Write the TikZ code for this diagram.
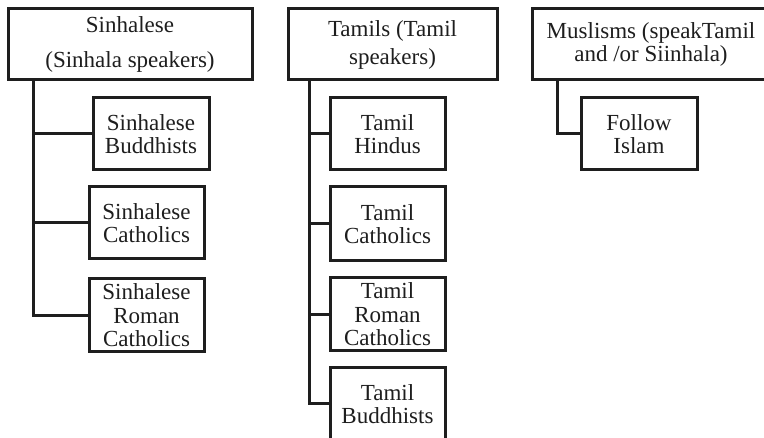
\documentclass[tikz,border=0pt]{standalone}
\usepackage{fontspec}
\setmainfont{Liberation Serif}
\definecolor{ink}{HTML}{1E1E1E}
\begin{document}
\begin{tikzpicture}[x=1pt,y=-1pt,
  box/.style={draw=ink,line width=3.0pt,inner sep=0pt,align=center,text=ink,
    font=\fontsize{23}{23.5}\selectfont,minimum height=72pt},
  link/.style={draw=ink,line width=3.0pt}]
\clip (0,0) rectangle (764,438);
\fill[white] (0,0) rectangle (764,438);
% Sinhalese column
\node[box,minimum width=244pt,minimum height=71pt] (S0) at (130,44.5) {Sinhalese\\[11.5pt](Sinhala speakers)};
\node[box,minimum width=116pt] (S1) at (151,134) {Sinhalese\\Buddhists};
\node[box,minimum width=115pt] (S2) at (146.5,223) {Sinhalese\\Catholics};
\node[box,minimum width=115pt,minimum height=73pt] (S3) at (146.5,315.5) {Sinhalese\\Roman\\Catholics};
\coordinate (sx) at (33,0);
\draw[link] (S0.south -| sx) |- (S3.west);
\draw[link] (sx |- S1.west) -- (S1.west);
\draw[link] (sx |- S2.west) -- (S2.west);
% Tamil column
\node[box,minimum width=209pt,minimum height=71pt] (T0) at (392.5,44.5) {Tamils (Tamil\\[4.5pt]speakers)};
\node[box,minimum width=115pt] (T1) at (387.5,134) {Tamil\\Hindus};
\node[box,minimum width=115pt,minimum height=74pt] (T2) at (387.5,224) {Tamil\\Catholics};
\node[box,minimum width=115pt,minimum height=73pt] (T3) at (387.5,314.5) {Tamil\\Roman\\Catholics};
\node[box,minimum width=115pt] (T4) at (387.5,404) {Tamil\\Buddhists};
\coordinate (tx) at (309,0);
\draw[link] (T0.south -| tx) |- (T4.west);
\draw[link] (tx |- T1.west) -- (T1.west);
\draw[link] (tx |- T2.west) -- (T2.west);
\draw[link] (tx |- T3.west) -- (T3.west);
% Muslim column
\node[box,minimum width=238pt,minimum height=71pt] (M0) at (651,44.5) {Muslisms (speakTamil\\and /or Siinhala)};
\node[box,minimum width=116pt] (M1) at (639,134) {Follow\\Islam};
\coordinate (mx) at (557,0);
\draw[link] (M0.south -| mx) |- (M1.west);
\end{tikzpicture}
\end{document}
